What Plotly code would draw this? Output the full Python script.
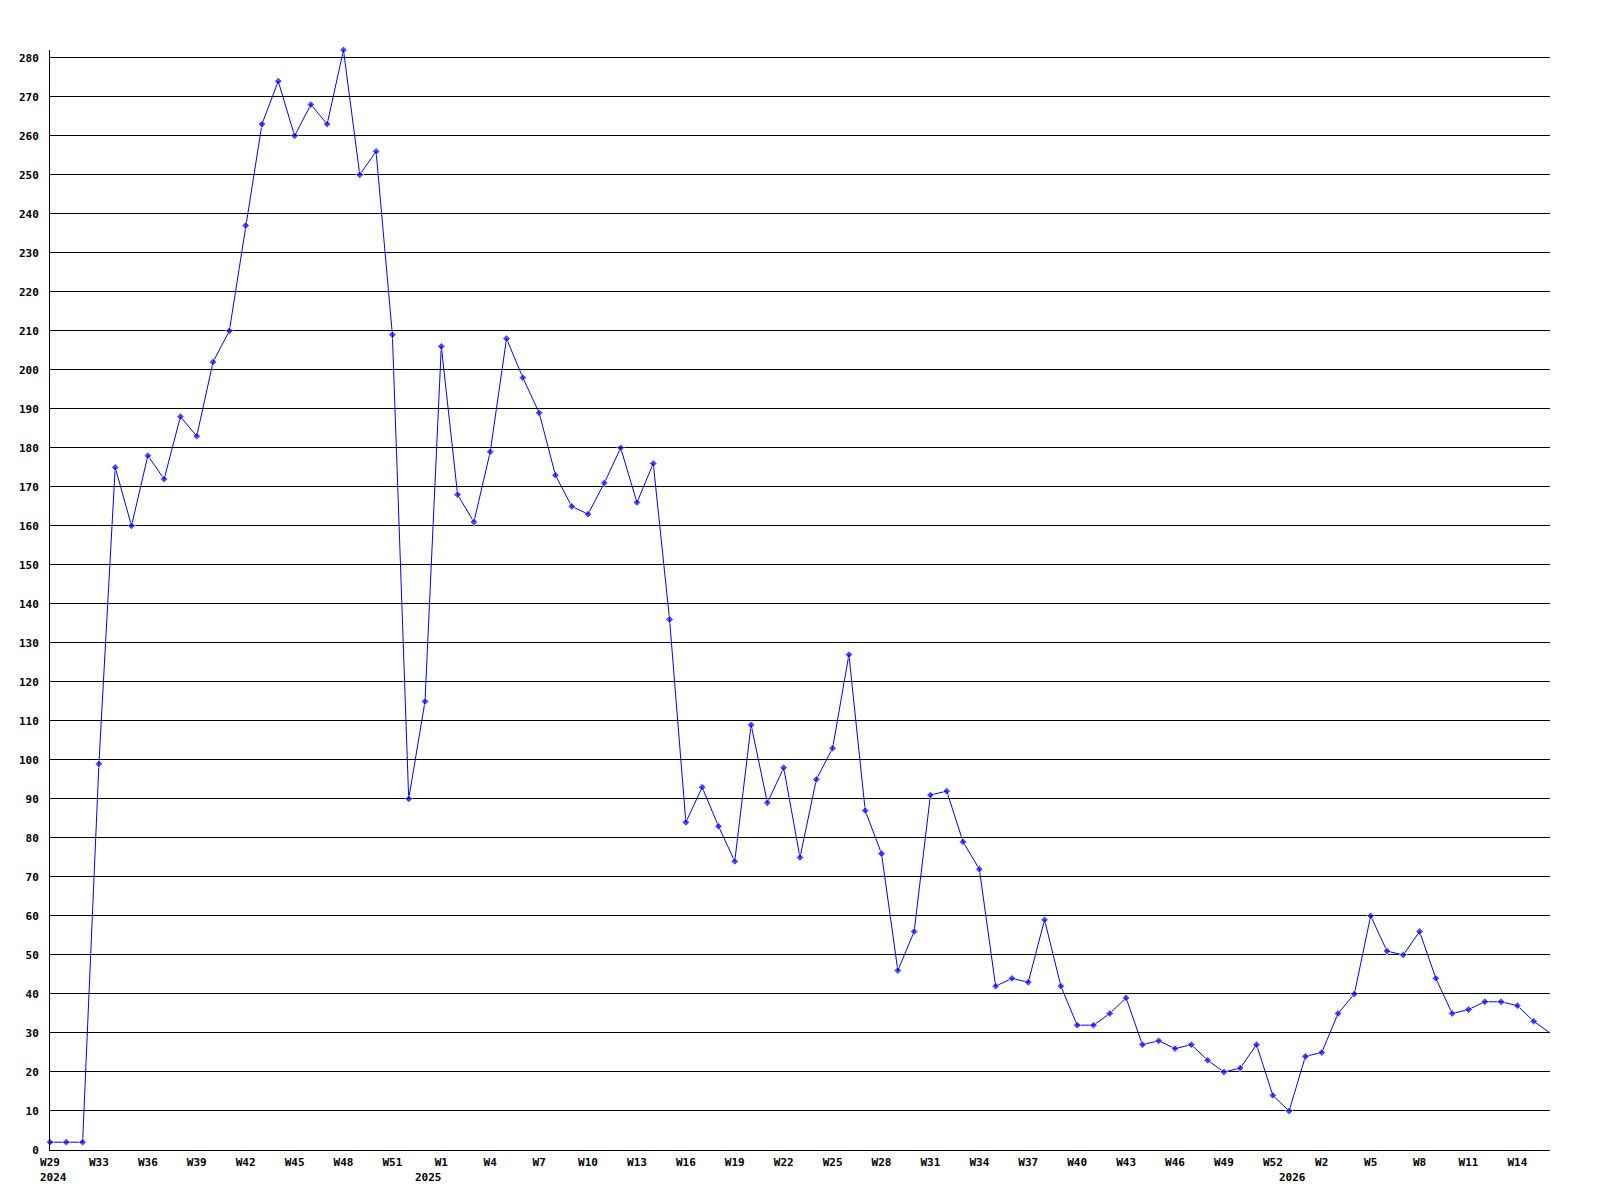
import plotly.graph_objects as go

# Weekly values, one per week (first point = W29 2024 label, last = W16 2026)
values = [
    2, 2, 2, 99, 175, 160, 178, 172, 188, 183,
    202, 210, 237, 263, 274, 260, 268, 263, 282, 250,
    256, 209, 90, 115, 206, 168, 161, 179, 208, 198,
    189, 173, 165, 163, 171, 180, 166, 176, 136, 84,
    93, 83, 74, 109, 89, 98, 75, 95, 103, 127,
    87, 76, 46, 56, 91, 92, 79, 72, 42, 44,
    43, 59, 42, 32, 32, 35, 39, 27, 28, 26,
    27, 23, 20, 21, 27, 14, 10, 24, 25, 35,
    40, 60, 51, 50, 56, 44, 35, 36, 38, 38,
    37, 33, 30,
]

# Week tick labels and the point index each sits at
tick_index = [0, 3, 6, 9, 12, 15, 18, 21, 24, 27, 30, 33, 36, 39, 42, 45, 48, 51,
              54, 57, 60, 63, 66, 69, 72, 75, 78, 81, 84, 87, 90]
tick_labels = ["W29", "W33", "W36", "W39", "W42", "W45", "W48", "W51",
               "W1", "W4", "W7", "W10", "W13", "W16", "W19", "W22", "W25", "W28",
               "W31", "W34", "W37", "W40", "W43", "W46", "W49", "W52",
               "W2", "W5", "W8", "W11", "W14"]

# Year labels and their positions (point index)
year_labels = ["2024", "2025", "2026"]
year_index = [0.2, 23.2, 76.2]

x = list(range(len(values)))
sizes = [6] * (len(values) - 1) + [0]

font = dict(family="DejaVu Sans Mono", size=11, color="black", weight="bold")

fig = go.Figure()
fig.add_trace(go.Scatter(
    x=x, y=values, mode="lines+markers",
    line=dict(color="#0000ff", width=1),
    marker=dict(symbol="diamond", size=sizes, color="#0000ff"),
    cliponaxis=False,
    hoverinfo="x+y",
))

for lbl, xi in zip(year_labels, year_index):
    fig.add_annotation(
        x=xi, y=0, xref="x", yref="paper", text=lbl, showarrow=False,
        yanchor="top", xanchor="center", yshift=-19, font=font,
    )

fig.update_layout(
    width=1600, height=1200,
    margin=dict(l=42, r=58, t=42, b=58),
    paper_bgcolor="white", plot_bgcolor="white",
    showlegend=False,
    font=font,
)
fig.update_xaxes(
    range=[0, len(values) - 1], tickmode="array",
    tickvals=tick_index, ticktext=tick_labels,
    showgrid=False, zeroline=False,
    showline=True, linecolor="black", linewidth=1,
    ticks="", ticklabelstandoff=2, tickfont=font,
)
fig.update_yaxes(
    range=[0, 282], tick0=0, dtick=10,
    showgrid=True, gridcolor="black", gridwidth=1,
    zeroline=False, showline=True, linecolor="black", linewidth=1,
    ticks="", ticklabelstandoff=8, tickfont=font,
)

fig.write_html("out.html")
